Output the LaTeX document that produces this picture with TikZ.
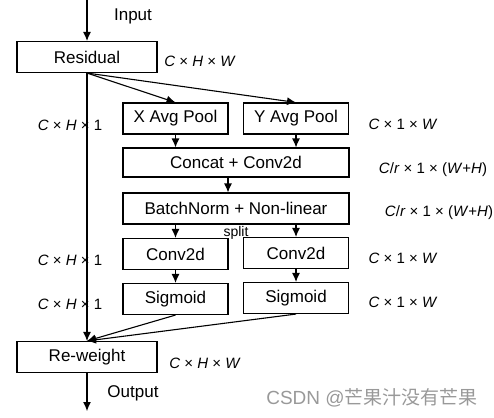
\documentclass[tikz,border=0pt]{standalone}
\usepackage{fontspec}
\setmainfont{Liberation Sans}
\newfontfamily\cjkfont{Noto Sans CJK SC}
\usetikzlibrary{arrows.meta}

\begin{document}
\begin{tikzpicture}[
        x=1pt, y=-1pt,
        line width=1.1pt,
        >={Latex[length=9pt,width=8pt]},
        every node/.style={font=\fontsize{17}{20}\selectfont},
        block/.style={draw, inner sep=0pt, minimum height=31pt},
        wide/.style={block, minimum width=140pt},
        half/.style={block, minimum width=105pt},
        long/.style={block, minimum width=226pt},
        dims/.style={font=\fontsize{15}{18}\selectfont}
      ]
      \useasboundingbox (0,0) rectangle (494,417);
      % Main path
      \coordinate (in) at (87,0);
      \node[wide] (res) at (87,57) {Residual};
      \node[wide] (rw) at (87,357) {Re-weight};
      \coordinate (out) at (87,411);
      % Attention branch
      \node[half] (xpool) at (175.5,118.5) {X Avg Pool};
      \node[half] (ypool) at (296,118.5) {Y Avg Pool};
      \node[long, minimum height=29pt] (cat) at (236,162.5) {Concat + Conv2d};
      \node[long] (bn) at (236,208.5) {BatchNorm + Non-linear};
      \node[half] (convl) at (175.5,254) {Conv2d};
      \node[half] (convr) at (296,253) {Conv2d};
      \node[half] (sigl) at (175.5,299) {Sigmoid};
      \node[half] (sigr) at (296,298) {Sigmoid};
      % Connectors
      \draw[->] (in) -- (res);
      \draw[->] (res.south) -- (rw.north);
      \draw[->] (rw) -- (out);
      \draw[->] (res.south) -- (xpool.north);
      \draw[->] (res.south) -- (ypool.north);
      \draw[->] (xpool) -- (xpool |- cat.north);
      \draw[->] (ypool) -- (ypool |- cat.north);
      \draw[->] ([xshift=-8pt]cat.south) -- ([xshift=-8pt]bn.north);
      \draw[->] (bn.south -| convl) -- (convl);
      \draw[->] (bn.south -| convr) -- (convr);
      \draw[->] (convl) -- (sigl);
      \draw[->] (convr) -- (sigr);
      \draw[->] (sigl.south) -- (rw.north);
      \draw[->] (sigr.south) -- (rw.north);
      % Labels
      \node (lin) at (133,16) {Input};
      \node (lout) at (133,393) {Output};
      \node[font=\fontsize{14}{16}\selectfont] (lsplit) at (236,233) {split};
      \node[dims] (d1) at (200,61) {\textit{C} × \textit{H} × \textit{W}};
      \node[dims] (d2) at (70,125) {\textit{C} × \textit{H} × 1};
      \node[dims] (d3) at (403,124) {\textit{C} × 1 × \textit{W}};
      \node[dims] (d4) at (433,170) {\textit{C}/\textit{r} × 1 × (\textit{W}+\textit{H})};
      \node[dims] (d5) at (439,213) {\textit{C}/\textit{r} × 1 × (\textit{W}+\textit{H})};
      \node[dims] (d6) at (70,260) {\textit{C} × \textit{H} × 1};
      \node[dims] (d7) at (403,258) {\textit{C} × 1 × \textit{W}};
      \node[dims] (d8) at (70,304) {\textit{C} × \textit{H} × 1};
      \node[dims] (d9) at (403,302) {\textit{C} × 1 × \textit{W}};
      \node[dims] (d10) at (205,363) {\textit{C} × \textit{H} × \textit{W}};
      % Watermark
      \node[font=\fontsize{19}{22}\selectfont, text=black!40] (mark) at (372,398) {CSDN @{\cjkfont 芒果汁没有芒果}};
    \end{tikzpicture}
\end{document}
